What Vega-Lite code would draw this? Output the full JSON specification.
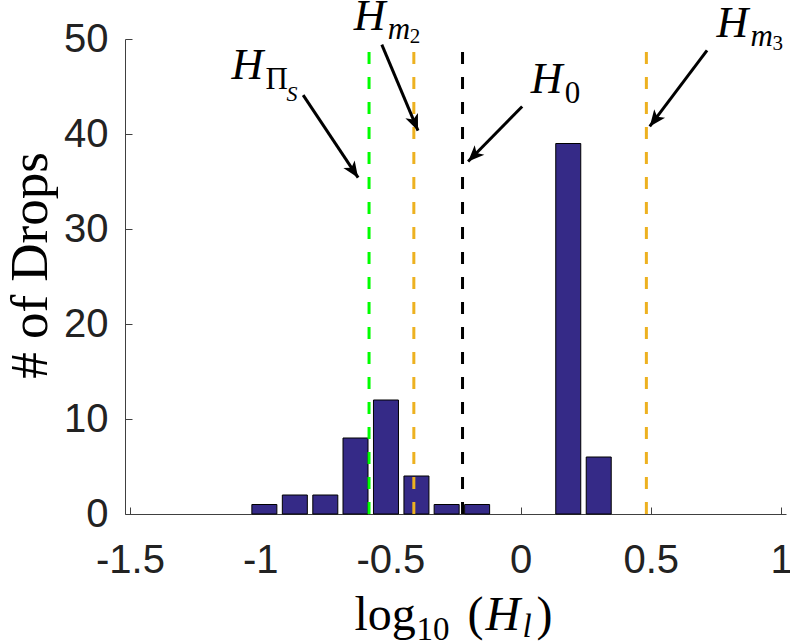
{
  "$schema": "https://vega.github.io/schema/vega-lite/v6.json",
  "width": 661,
  "height": 475,
  "autosize": {"type": "none"},
  "padding": {"left": 125, "top": 39, "right": 4, "bottom": 130},
  "background": "white",
  "config": {
    "view": {"stroke": null},
    "axis": {
      "grid": false,
      "domainColor": "#404040",
      "domainWidth": 1,
      "tickColor": "#404040",
      "tickSize": -7,
      "tickWidth": 1,
      "labelFont": "Liberation Sans",
      "labelFontSize": 40,
      "labelColor": "#222222",
      "titleFont": "Liberation Serif",
      "titleFontWeight": "normal",
      "titleColor": "#000000"
    }
  },
  "datasets": {
    "bins": [
      {"center": -0.984, "count": 1},
      {"center": -0.867, "count": 2},
      {"center": -0.75, "count": 2},
      {"center": -0.634, "count": 8},
      {"center": -0.517, "count": 12},
      {"center": -0.4, "count": 4},
      {"center": -0.284, "count": 1},
      {"center": -0.167, "count": 1},
      {"center": 0.183, "count": 39},
      {"center": 0.3, "count": 6}
    ],
    "refs": [
      {"ref": "H_PiS", "value": -0.582},
      {"ref": "H_m2", "value": -0.41},
      {"ref": "H_0", "value": -0.223},
      {"ref": "H_m3", "value": 0.483}
    ],
    "arrows": [
      {"ref": "H_PiS", "x": -0.835, "y": 44.1, "tipx": -0.624, "tipy": 35.4, "angle": 146},
      {"ref": "H_m2", "x": -0.533, "y": 49.4, "tipx": -0.394, "tipy": 40.35, "angle": 157},
      {"ref": "H_0", "x": 0.006, "y": 42.9, "tipx": -0.2016, "tipy": 37.1, "angle": 224.6},
      {"ref": "H_m3", "x": 0.716, "y": 48.8, "tipx": 0.496, "tipy": 40.8, "angle": 217.5}
    ],
    "labels": [
      {"ref": "H_PiS", "x": -1.11, "y": 45.8, "sub": "Π", "subsub": "S"},
      {"ref": "H_m2", "x": -0.641, "y": 51.0, "sub": "m", "subsub": "2"},
      {"ref": "H_0", "x": 0.039, "y": 44.3, "sub": "0", "subsub": ""},
      {"ref": "H_m3", "x": 0.752, "y": 50.2, "sub": "m", "subsub": "3"}
    ],
    "xtitle": [
      {"x": -0.638, "y": -12.2}
    ]
  },
  "layer": [
    {
      "data": {"name": "bins"},
      "mark": {"type": "bar", "orient": "vertical", "size": 25, "fill": "#352a87", "stroke": "#000000", "strokeWidth": 1},
      "encoding": {
        "x": {
          "field": "center",
          "type": "quantitative",
          "scale": {"domain": [-1.5, 1], "nice": false, "zero": false},
          "axis": {
            "values": [-1.5, -1, -0.5, 0, 0.5, 1],
            "labelExpr": "'' + datum.value",
            "labelPadding": 33,
            "title": null
          }
        },
        "y": {
          "field": "count",
          "type": "quantitative",
          "scale": {"domain": [0, 50], "nice": false},
          "axis": {
            "values": [0, 10, 20, 30, 40, 50],
            "labelExpr": "'' + datum.value",
            "labelPadding": 24,
            "title": "# of Drops",
            "titleFontSize": 53,
            "titlePadding": 6,
            "titleY": 226
          }
        }
      }
    },
    {
      "data": {"name": "refs"},
      "mark": {"type": "rule", "strokeWidth": 3, "strokeDash": [12, 13]},
      "encoding": {
        "x": {"field": "value", "type": "quantitative"},
        "y": {"datum": 0},
        "y2": {"datum": 50},
        "color": {
          "field": "ref",
          "type": "nominal",
          "scale": {"domain": ["H_PiS", "H_m2", "H_0", "H_m3"], "range": ["#00ff00", "#edb120", "#000000", "#edb120"]},
          "legend": null
        }
      }
    },
    {
      "data": {"name": "arrows"},
      "mark": {"type": "rule", "strokeWidth": 3, "color": "#000000", "strokeCap": "butt"},
      "encoding": {
        "x": {"field": "x", "type": "quantitative"},
        "y": {"field": "y", "type": "quantitative"},
        "x2": {"field": "tipx"},
        "y2": {"field": "tipy"}
      }
    },
    {
      "data": {"name": "arrows"},
      "mark": {"type": "point", "filled": true, "color": "#000000", "opacity": 1, "size": 440, "shape": "M0,0L0.65,1.55L0,1.15L-0.65,1.55Z"},
      "encoding": {
        "x": {"field": "tipx", "type": "quantitative"},
        "y": {"field": "tipy", "type": "quantitative"},
        "angle": {"field": "angle", "type": "quantitative", "scale": null}
      }
    },
    {
      "data": {"name": "labels"},
      "mark": {"type": "text", "text": "H", "font": "Liberation Serif", "fontStyle": "italic", "fontSize": 44, "align": "left", "baseline": "alphabetic", "color": "#000000"},
      "encoding": {
        "x": {"field": "x", "type": "quantitative"},
        "y": {"field": "y", "type": "quantitative"}
      }
    },
    {
      "data": {"name": "labels"},
      "transform": [{"filter": "datum.sub === 'm'"}],
      "mark": {"type": "text", "font": "Liberation Serif", "fontStyle": "italic", "fontSize": 31, "align": "left", "baseline": "alphabetic", "dx": 34, "dy": 9, "color": "#000000"},
      "encoding": {
        "x": {"field": "x", "type": "quantitative"},
        "y": {"field": "y", "type": "quantitative"},
        "text": {"field": "sub"}
      }
    },
    {
      "data": {"name": "labels"},
      "transform": [{"filter": "datum.sub !== 'm'"}],
      "mark": {"type": "text", "font": "Liberation Serif", "fontSize": 31, "align": "left", "baseline": "alphabetic", "dx": 34, "dy": 10, "color": "#000000"},
      "encoding": {
        "x": {"field": "x", "type": "quantitative"},
        "y": {"field": "y", "type": "quantitative"},
        "text": {"field": "sub"}
      }
    },
    {
      "data": {"name": "labels"},
      "transform": [{"filter": "datum.subsub === 'S'"}],
      "mark": {"type": "text", "font": "Liberation Serif", "fontStyle": "italic", "fontSize": 22, "align": "left", "baseline": "alphabetic", "dx": 55, "dy": 22, "color": "#000000"},
      "encoding": {
        "x": {"field": "x", "type": "quantitative"},
        "y": {"field": "y", "type": "quantitative"},
        "text": {"field": "subsub"}
      }
    },
    {
      "data": {"name": "labels"},
      "transform": [{"filter": "datum.subsub === '2' || datum.subsub === '3'"}],
      "mark": {"type": "text", "font": "Liberation Serif", "fontSize": 21, "align": "left", "baseline": "alphabetic", "dx": 56, "dy": 13, "color": "#000000"},
      "encoding": {
        "x": {"field": "x", "type": "quantitative"},
        "y": {"field": "y", "type": "quantitative"},
        "text": {"field": "subsub"}
      }
    },
    {
      "data": {"name": "xtitle"},
      "mark": {"type": "text", "text": "log", "font": "Liberation Serif", "fontSize": 48, "align": "left", "baseline": "alphabetic", "color": "#000000"},
      "encoding": {
        "x": {"field": "x", "type": "quantitative"},
        "y": {"field": "y", "type": "quantitative"}
      }
    },
    {
      "data": {"name": "xtitle"},
      "mark": {"type": "text", "text": "10", "font": "Liberation Serif", "fontSize": 33, "align": "left", "baseline": "alphabetic", "dx": 62, "dy": 10, "color": "#000000"},
      "encoding": {
        "x": {"field": "x", "type": "quantitative"},
        "y": {"field": "y", "type": "quantitative"}
      }
    },
    {
      "data": {"name": "xtitle"},
      "mark": {"type": "text", "text": "(", "font": "Liberation Serif", "fontSize": 48, "align": "left", "baseline": "alphabetic", "dx": 113, "color": "#000000"},
      "encoding": {
        "x": {"field": "x", "type": "quantitative"},
        "y": {"field": "y", "type": "quantitative"}
      }
    },
    {
      "data": {"name": "xtitle"},
      "mark": {"type": "text", "text": "H", "font": "Liberation Serif", "fontStyle": "italic", "fontSize": 48, "align": "left", "baseline": "alphabetic", "dx": 131, "color": "#000000"},
      "encoding": {
        "x": {"field": "x", "type": "quantitative"},
        "y": {"field": "y", "type": "quantitative"}
      }
    },
    {
      "data": {"name": "xtitle"},
      "mark": {"type": "text", "text": "l", "font": "Liberation Serif", "fontStyle": "italic", "fontSize": 33, "align": "left", "baseline": "alphabetic", "dx": 168, "dy": 7, "color": "#000000"},
      "encoding": {
        "x": {"field": "x", "type": "quantitative"},
        "y": {"field": "y", "type": "quantitative"}
      }
    },
    {
      "data": {"name": "xtitle"},
      "mark": {"type": "text", "text": ")", "font": "Liberation Serif", "fontSize": 48, "align": "left", "baseline": "alphabetic", "dx": 182, "color": "#000000"},
      "encoding": {
        "x": {"field": "x", "type": "quantitative"},
        "y": {"field": "y", "type": "quantitative"}
      }
    }
  ]
}
